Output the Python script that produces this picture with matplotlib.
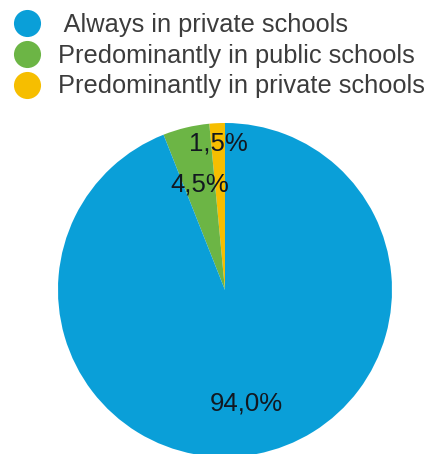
import numpy as np
import matplotlib
matplotlib.use('Agg')
import matplotlib.pyplot as plt
from matplotlib.lines import Line2D

plt.rcParams['font.family'] = ['Liberation Sans', 'DejaVu Sans']

# share of students by school path, drawn counterclockwise from 12 o'clock
categories = ['Predominantly in private schools', 'Predominantly in public schools', 'Always in private schools']
shares = [1.5, 4.5, 94.0]
colors = ['#f6be00', '#6cb545', '#0a9fd8']
label_dist = [0.88, 0.65, 0.69]

# legend order as printed above the pie
legend_order = [2, 1, 0]
legend_labels = [' Always in private schools', 'Predominantly in public schools', 'Predominantly in private schools']

fig = plt.figure(figsize=(4.34, 4.54), dpi=100)
ax = fig.add_axes([0.1336, -0.0066, 0.7696, 0.7357])

wedges, _ = ax.pie(shares, colors=colors, startangle=90, counterclock=True,
                   wedgeprops=dict(linewidth=0))
ax.set_xlim(-1, 1)
ax.set_ylim(-1, 1)
ax.set_aspect('equal')
ax.axis('off')

# value labels, placed along each wedge's middle angle
for w, v, d in zip(wedges, shares, label_dist):
    mid = np.deg2rad((w.theta1 + w.theta2) / 2)
    ax.text(d * np.cos(mid), d * np.sin(mid), f'{v:.1f}%'.replace('.', ','),
            ha='center', va='center', fontsize=18.5, color='#121820')

handles = [Line2D([], [], marker='o', linestyle='', markersize=19.5,
                  markerfacecolor=colors[i], markeredgewidth=0) for i in legend_order]
fig.legend(handles, legend_labels, loc='upper left', bbox_to_anchor=(0.027, 0.972),
           frameon=False, fontsize=18.3, labelcolor='#3c3c3c', borderpad=0,
           borderaxespad=0, handletextpad=0.62, labelspacing=0.27, handlelength=1.2)

fig.savefig('out.png', dpi=100)
